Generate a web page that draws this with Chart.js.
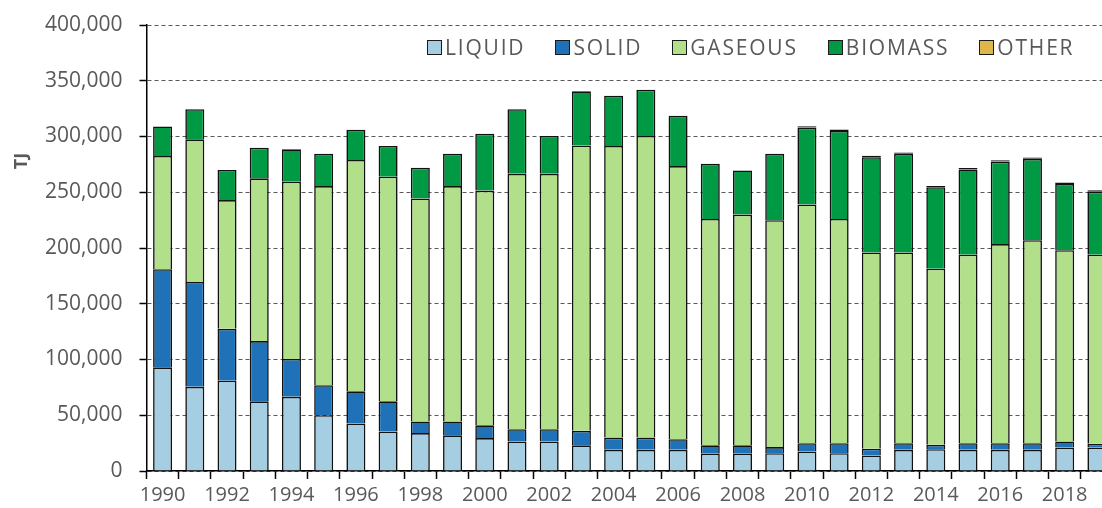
<!DOCTYPE html>
<html>
<head>
<meta charset="utf-8">
<script src="https://cdn.jsdelivr.net/npm/chart.js@4.4.1/dist/chart.umd.min.js"></script>
<style>
    html, body { margin: 0; padding: 0; background: #fff; overflow: hidden; }
    #wrap { position: relative; width: 1114px; height: 508px; overflow: hidden; }
    #titulo-y {
        position: absolute; left: 4px; top: 150px; width: 30px; height: 22px;
        line-height: 22px; text-align: center; transform: rotate(-90deg);
        font: bold 18px "Open Sans"; color: #595959;
    }
    #legenda {
        position: absolute; left: 427px; top: 36px; display: flex; align-items: center;
        font: 21px "Open Sans"; line-height: 22px; letter-spacing: 1.8px; color: #595959;
    }
    #legenda .item { display: flex; align-items: center; margin-right: 30px; }
    #legenda .caixa { width: 13px; height: 13px; border: 1.5px solid #1a1a1a; margin-right: 3px; }
</style>
</head>
<body>
<div id="wrap">
    <canvas id="grafico" width="1114" height="513"></canvas>
    <div id="titulo-y">TJ</div>
    <div id="legenda"></div>
</div>
<script>
const years = ["1990", "1991", "1992", "1993", "1994", "1995", "1996", "1997", "1998", "1999",
    "2000", "2001", "2002", "2003", "2004", "2005", "2006", "2007", "2008", "2009",
    "2010", "2011", "2012", "2013", "2014", "2015", "2016", "2017", "2018", "2019"];

const seriesNames = ["LIQUID", "SOLID", "GASEOUS", "BIOMASS", "OTHER"];

// TJ per year
const liquid = [93000, 75500, 81000, 62500, 66500, 50000, 42500, 35500, 34000, 32000,
    29500, 26500, 26500, 23000, 19000, 19000, 19000, 15500, 15500, 16000,
    17500, 16000, 14000, 19000, 19500, 19000, 19000, 19000, 21000, 21000];
const solid = [88000, 94000, 46500, 54000, 34000, 27000, 29000, 27000, 10500, 12500,
    11500, 11000, 11000, 13000, 11000, 11000, 9500, 7500, 7500, 5500,
    7500, 9000, 6000, 6000, 4000, 6000, 6000, 6000, 5500, 3500];
const gaseous = [101500, 128000, 115500, 146000, 159000, 178500, 207500, 201500, 200000, 211000,
    210500, 229000, 229000, 256000, 261500, 270500, 245000, 203000, 207000, 203500,
    214000, 201000, 176000, 171000, 158000, 169000, 178500, 182000, 171500, 169500];
const biomass = [26500, 27000, 27000, 27500, 29000, 29000, 27000, 27500, 27500, 29000,
    51000, 58000, 34000, 48500, 45000, 41500, 45000, 49500, 39500, 59500,
    69000, 79000, 85500, 88500, 73000, 76500, 74000, 73000, 59500, 56500];
const other = [null, null, null, null, null, null, null, null, null, null,
    null, null, null, null, null, null, null, null, null, null,
    1200, 1200, 1200, 1200, 1200, 1200, 1200, 1200, 1200, 1200];

const seriesColors = ["#a6cee3", "#1f72b8", "#b2df8a", "#009a44", "#deb64a"];

const cinza = "#595959";

function criarGrafico() {
    const valores = [liquid, solid, gaseous, biomass, other];

    return new Chart(document.getElementById("grafico"), {
        type: "bar",
        data: {
            labels: years,
            datasets: valores.map((data, i) => ({
                label: seriesNames[i],
                data: data,
                backgroundColor: seriesColors[i],
                borderColor: "#111",
                borderWidth: 1.6,
                // the thin OTHER slice shows as a dark band, as in the original
                borderSkipped: i === 4 ? false : "start",
                barPercentage: 0.59,
                categoryPercentage: 1
            }))
        },
        options: {
            responsive: false,
            animation: false,
            layout: { padding: { left: 28, top: 25, right: 1, bottom: 2 } },
            plugins: {
                legend: { display: false },
                tooltip: { enabled: false }
            },
            scales: {
                x: {
                    stacked: true,
                    grid: { drawOnChartArea: false, tickLength: 8, tickColor: "#000", tickWidth: 1.5, offset: true },
                    border: { color: "#000", width: 1.5 },
                    ticks: {
                        autoSkip: false,
                        maxRotation: 0,
                        padding: 4,
                        color: cinza,
                        font: { family: "Open Sans", size: 20 },
                        callback: (v, i) => i % 2 === 0 ? years[i] : ""
                    }
                },
                y: {
                    stacked: true,
                    min: 0,
                    max: 400000,
                    grid: { color: cinza, lineWidth: 1, tickLength: 7, tickColor: "#000", tickWidth: 1.5 },
                    border: { color: "#000", width: 1.5, dash: [4, 3] },
                    ticks: {
                        stepSize: 50000,
                        padding: 17,
                        color: cinza,
                        font: { family: "Open Sans", size: 21 },
                        callback: v => v.toLocaleString("en-US")
                    },
                    // the label padding would otherwise push the plot top down
                    afterFit: scale => { scale.paddingTop = 12; }
                }
            }
        }
    });
}

function criarLegenda(grafico) {
    document.getElementById("legenda").innerHTML =
        grafico.data.datasets.map(ds => `
            <div class="item"><span class="caixa" style="background:${ds.backgroundColor}"></span>${ds.label}</div>
        `).join("");
}

const grafico = criarGrafico();
criarLegenda(grafico);
</script>
</body>
</html>
